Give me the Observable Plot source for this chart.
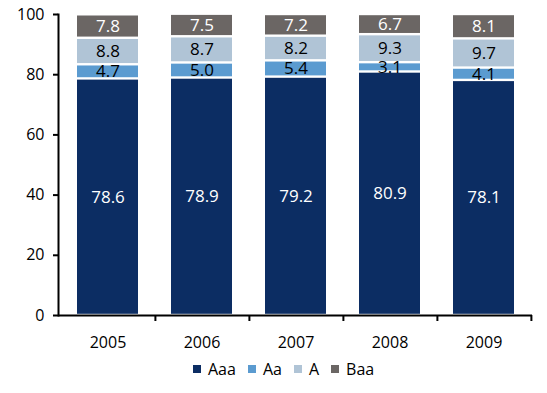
<!DOCTYPE html>
<html><head><meta charset="utf-8">
<script src="https://cdn.jsdelivr.net/npm/d3@7"></script>
<script src="https://cdn.jsdelivr.net/npm/@observablehq/plot@0.6"></script>
<style>
body{margin:0;background:#fff;font-family:"Open Sans",sans-serif;}
#wrap{position:relative;width:547px;height:393px;}
#legend{position:absolute;left:193px;top:358px;display:flex;align-items:center;font-size:16px;color:#000;}
#legend span.sw{display:inline-block;width:8px;height:8px;margin-right:7px;}
#legend span.lb{margin-right:12px;}
</style></head>
<body><div id="wrap"><div id="legend"></div></div>
<script>
const years = ["2005","2006","2007","2008","2009"];
const ratings = ["Aaa","Aa","A","Baa"];
const colors = ["#0c2d63","#5b9bd0","#b0c4d6","#6b6664"];
const labelColors = ["white","black","black","white"];
const aaa = [78.6,78.9,79.2,80.9,78.1];
const aa = [4.7,5.0,5.4,3.1,4.1];
const a = [8.8,8.7,8.2,9.3,9.7];
const baa = [7.8,7.5,7.2,6.7,8.1];
const yTicks = [0,20,40,60,80,100];

const series = [aaa,aa,a,baa];
const data = [];
years.forEach((y,i)=>ratings.forEach((r,j)=>data.push({year:y,rating:r,value:series[j][i]})));

const W = 547, ML = 58, MR = 15;
const half = (W - ML - MR) / years.length / 2;

const chart = Plot.plot({
  width:W, height:355,
  marginLeft:ML, marginRight:MR, marginTop:14, marginBottom:40,
  style:{fontFamily:"'Open Sans',sans-serif",fontSize:"16px",color:"black"},
  x:{domain:years, paddingInner:0.356, paddingOuter:0.178, label:null},
  y:{domain:[0,100], label:null},
  color:{domain:ratings, range:colors},
  marks:[
    Plot.barY(data, Plot.stackY({x:"year", y:"value", fill:"rating", order:ratings, insetTop:1.2, insetBottom:1.2})),
    Plot.text(data, Plot.stackY({x:"year", y:"value", z:"rating", order:ratings, text:d=>d.value.toFixed(1),
      fill:d=>labelColors[ratings.indexOf(d.rating)], fontSize:17})),
    Plot.axisY({ticks:yTicks, tickSize:5, tickPadding:9, tickFormat:d=>String(d), strokeWidth:2, fontSize:16}),
    Plot.axisX({tickSize:0, tickPadding:21, fontSize:16}),
    Plot.frame({anchor:"left", stroke:"black", strokeWidth:2}),
    Plot.ruleY([0], {stroke:"black", strokeWidth:2}),
    Plot.ruleX(years, {x:d=>d, dx:half, y1:()=>0, y2:()=>-2, stroke:"black", strokeWidth:2})
  ]
});
document.getElementById("wrap").prepend(chart);
const lg = document.getElementById("legend");
ratings.forEach((r,i)=>{
  const s=document.createElement("span");s.className="sw";s.style.background=colors[i];lg.appendChild(s);
  const t=document.createElement("span");t.className="lb";t.textContent=r;lg.appendChild(t);
});
</script></body></html>
